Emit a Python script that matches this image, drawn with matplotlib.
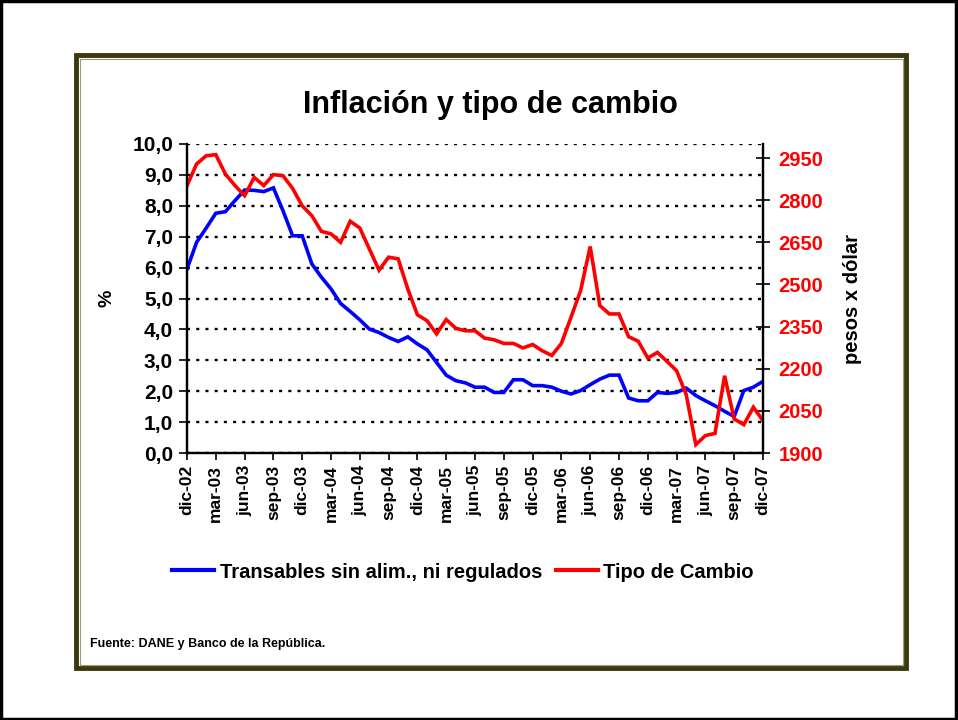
import numpy as np
import matplotlib
matplotlib.use('Agg')
import matplotlib.pyplot as plt
from matplotlib.patches import Rectangle
from matplotlib.lines import Line2D

plt.rcParams['font.family'] = ['Liberation Sans', 'DejaVu Sans']
plt.rcParams['font.weight'] = 'bold'

# %% data (monthly, dic-02 .. dic-07)
transables = [5.95, 6.82, 7.28, 7.76, 7.81, 8.17, 8.51, 8.50, 8.46, 8.58,
              7.84, 7.03, 7.03, 6.12, 5.69, 5.31, 4.84, 4.58, 4.31, 4.01,
              3.90, 3.74, 3.61, 3.76, 3.53, 3.34, 2.93, 2.52, 2.34, 2.27,
              2.13, 2.13, 1.96, 1.96, 2.37, 2.37, 2.18, 2.18, 2.13, 2.00,
              1.91, 2.02, 2.21, 2.39, 2.52, 2.52, 1.78, 1.69, 1.69, 1.96,
              1.93, 1.96, 2.10, 1.86, 1.69, 1.53, 1.35, 1.18, 2.02, 2.13,
              2.32]
tipo_cambio = [2852, 2929, 2958, 2962, 2893, 2852, 2816, 2881, 2852, 2891,
               2887, 2842, 2780, 2745, 2689, 2680, 2650, 2725, 2701, 2626,
               2551, 2597, 2591, 2484, 2392, 2371, 2324, 2375, 2344, 2335,
               2335, 2309, 2303, 2290, 2290, 2274, 2286, 2264, 2247, 2290,
               2383, 2478, 2635, 2425, 2395, 2395, 2314, 2298, 2238, 2258,
               2226, 2193, 2108, 1930, 1962, 1970, 2175, 2021, 2001, 2063,
               2015]
tick_labels = ['dic-02', 'mar-03', 'jun-03', 'sep-03', 'dic-03', 'mar-04', 'jun-04',
               'sep-04', 'dic-04', 'mar-05', 'jun-05', 'sep-05', 'dic-05', 'mar-06',
               'jun-06', 'sep-06', 'dic-06', 'mar-07', 'jun-07', 'sep-07', 'dic-07']
left_ticks = np.arange(0, 10.01, 1.0)
right_ticks = np.arange(1900, 2951, 150)

# %% figure
fig = plt.figure(figsize=(9.58, 7.2), dpi=100)
W, H = 958.0, 720.0

# outer slide border and olive frame
fig.patches.append(Rectangle((0.001, 0.002), 0.997, 0.996, transform=fig.transFigure,
                             fill=False, edgecolor='black', lw=2.5))
fig.patches.append(Rectangle((76 / W, 1 - 668 / H), (906 - 76) / W, (668 - 55) / H,
                             transform=fig.transFigure, fill=False,
                             edgecolor='#3a3a0c', lw=3.5))
fig.patches.append(Rectangle((79.5 / W, 1 - 664.5 / H), (902.5 - 79.5) / W, (664.5 - 58.5) / H,
                             transform=fig.transFigure, fill=False,
                             edgecolor='#9a9a80', lw=0.8))

ax = fig.add_axes([187 / W, 1 - 453 / H, (763 - 187) / W, (453 - 144) / H])
ax2 = ax.twinx()

x = np.arange(len(transables))
ax.plot(x, transables, color='#0000ff', lw=2.6, solid_joinstyle='miter')
ax2.plot(x, tipo_cambio, color='#ff0000', lw=2.6, solid_joinstyle='miter')

ax.set_xlim(0, len(transables) - 1)
ax.set_ylim(0, 10)
ax2.set_ylim(1900, 3000)

ax.set_yticks(left_ticks)
ax.set_yticklabels([('%.1f' % v).replace('.', ',') for v in left_ticks],
                   fontsize=15, fontweight='bold')
ax.yaxis.grid(True, linestyle=(0, (1.3, 2.6)), color='black', lw=1.7)
ax.set_axisbelow(True)

ax2.set_yticks(right_ticks)
ax2.set_yticklabels([str(v) for v in right_ticks], fontsize=14.5, fontweight='bold',
                    color='#ff0000')
ax2.tick_params(axis='y', direction='inout', length=10, width=1.2, pad=6)

ax.set_xticks(x[::3])
ax.set_xticklabels(tick_labels, rotation=90, fontsize=12.5, fontweight='bold')
ax.tick_params(axis='x', direction='out', length=5, width=1.2)
ax.tick_params(axis='y', direction='out', length=6, width=1.2, pad=4)

for a in (ax, ax2):
    a.spines['top'].set_visible(False)
    for s in ('left', 'right', 'bottom'):
        a.spines[s].set_linewidth(1.6)

ax.set_ylabel('%', fontsize=14, fontweight='bold', labelpad=12)
ax2.set_ylabel('pesos x dólar', fontsize=14.5, fontweight='bold', labelpad=14)

fig.text(490 / W, 1 - 105 / H, 'Inflación y tipo de cambio', ha='center', va='center',
         fontsize=22, fontweight='bold')

handles = [Line2D([], [], color='#0000ff', lw=3),
           Line2D([], [], color='#ff0000', lw=3)]
fig.legend(handles, ['Transables sin alim., ni regulados', 'Tipo de Cambio'],
           loc='center', bbox_to_anchor=(463 / W, 1 - 572 / H), ncol=2, frameon=False,
           handlelength=2.1, handletextpad=0.25, columnspacing=0.7,
           prop={'weight': 'bold', 'size': 14.5})

fig.text(90 / W, 1 - 644 / H, 'Fuente: DANE y Banco de la República.', ha='left',
         va='center', fontsize=9, fontweight='bold')

plt.savefig('out.png', dpi=100)
